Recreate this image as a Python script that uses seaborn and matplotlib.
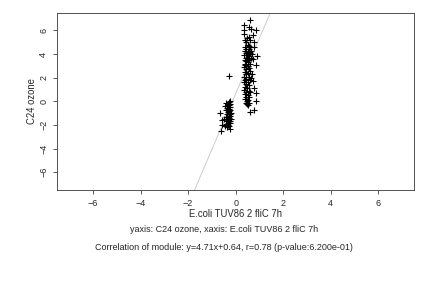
import numpy as np
import matplotlib
matplotlib.use('Agg')
from matplotlib import pyplot as plt
import pandas as pd
import seaborn as sns

# points (upper cluster, lower cluster, one stray)
x_high = [0.61, 0.36, 0.36, 0.55, 0.65, 0.86, 0.72, 0.36, 0.48, 0.55, 0.79, 0.45, 0.38, 0.60,
          0.76, 0.41, 0.50, 0.55, 0.62, 0.45, 0.58, 0.38, 0.52, 0.66, 0.43, 0.60, 0.48, 0.70,
          0.36, 0.55, 0.88, 0.42, 0.63, 0.50, 0.38, 0.58, 0.72, 0.45, 0.53, 0.40, 0.62, 0.85,
          0.41, 0.50, 0.36, 0.57,
          0.45, 0.38, 0.60, 0.52, 0.42, 0.70, 0.36, 0.55, 0.65, 0.45, 0.38, 0.60, 0.72, 0.50,
          0.42, 0.35, 0.58,
          0.40, 0.48, 0.76, 0.36, 0.55, 0.42, 0.85, 0.62, 0.38, 0.50, 0.45, 0.57, 0.40, 0.52,
          0.48, 0.85, 0.43, 0.55, 0.47, 0.50, 0.79, 0.60]
y_high = [6.85, 6.42, 6.00, 6.30, 6.10, 6.06, 5.64, 5.70, 5.36, 5.45, 5.02, 5.00, 5.15, 5.20,
          4.60, 4.60, 4.80, 4.70, 4.60, 4.40, 4.40, 4.30, 4.20, 4.25, 4.10, 4.05, 3.95, 4.00,
          3.90, 3.85, 3.81, 3.70, 3.70, 3.60, 3.50, 3.50, 3.55, 3.40, 3.30, 3.20, 3.20, 3.05,
          3.05, 3.00, 2.90, 2.85,
          2.70, 2.50, 2.60, 2.40, 2.30, 2.30, 2.10, 2.10, 2.00, 1.90, 1.80, 1.80, 1.75, 1.60,
          1.50, 1.60, 1.40,
          1.20, 1.10, 1.10, 1.00, 0.90, 0.80, 0.70, 0.75, 0.60, 0.55, 0.40, 0.35, 0.20, 0.15,
          0.00, 0.00, -0.10, -0.15, -0.25, -0.30, -0.70, -0.90]
x_low = [-0.25, -0.39, -0.30, -0.22, -0.33, -0.28, -0.45, -0.24, -0.35, -0.30, -0.22, -0.40,
         -0.27, -0.33, -0.20, -0.65, -0.37, -0.25, -0.30, -0.22, -0.42, -0.35, -0.27, -0.50,
         -0.20, -0.32, -0.38, -0.25, -0.58, -0.30, -0.22, -0.40, -0.34, -0.58, -0.27, -0.45,
         -0.22, -0.35, -0.60, -0.29]
y_low = [0.00, -0.10, -0.05, -0.20, -0.25, -0.35, -0.40, -0.50, -0.55, -0.65, -0.70, -0.75,
         -0.85, -0.90, -0.95, -1.00, -1.05, -1.10, -1.20, -1.25, -1.30, -1.35, -1.40, -1.50,
         -1.50, -1.55, -1.65, -1.70, -1.60, -1.80, -1.85, -1.90, -2.00, -2.00, -2.05, -2.10,
         -2.30, -2.20, -2.50, 2.12]

slope = 4.71
intercept = 0.64
x_name = "E.coli TUV86 2 fliC 7h"
y_name = "C24 ozone"

df = pd.DataFrame({"x": x_high + x_low, "y": y_high + y_low})

sns.set_style("white")
plt.rcParams['font.family'] = ['Liberation Sans', 'DejaVu Sans']

fig = plt.figure(figsize=(6, 4), dpi=72)
ax = fig.add_axes([57.3 / 432, 1 - 190 / 288, (414 - 57.3) / 432, (190 - 12.7) / 288])

ax.axline((0, intercept), slope=slope, color="#c8c8c8", lw=0.9, zorder=1)
sns.scatterplot(data=df, x="x", y="y", marker="+", color="black", s=26,
                linewidth=1.1, ax=ax, zorder=2)

ax.set_xlim(-7.5, 7.5)
ax.set_ylim(-7.5, 7.5)
ax.set_xticks(range(-6, 7, 2))
ax.set_yticks(range(-6, 7, 2))
ax.tick_params(axis="both", labelsize=9, length=4, width=0.8, direction="out",
               bottom=True, left=True, color="#333333", pad=5)
for lab in ax.get_yticklabels():
    lab.set_rotation(90)
    lab.set_va("center")
for sp in ax.spines.values():
    sp.set_visible(True)
    sp.set_color("#444444")
    sp.set_linewidth(0.9)

ax.set_xlabel(x_name, fontsize=9.5, labelpad=1)
ax.set_ylabel(y_name, fontsize=9.5, labelpad=2)

fig.text(224 / 432, 1 - 230 / 288, "yaxis: %s, xaxis: %s" % (y_name, x_name),
         ha="center", va="center", fontsize=9)
fig.text(224 / 432, 1 - 247.5 / 288,
         "Correlation of module: y=%.2fx+%.2f, r=0.78 (p-value:6.200e-01)" % (slope, intercept),
         ha="center", va="center", fontsize=9)

plt.savefig("out.png", dpi=72)
plt.close()
